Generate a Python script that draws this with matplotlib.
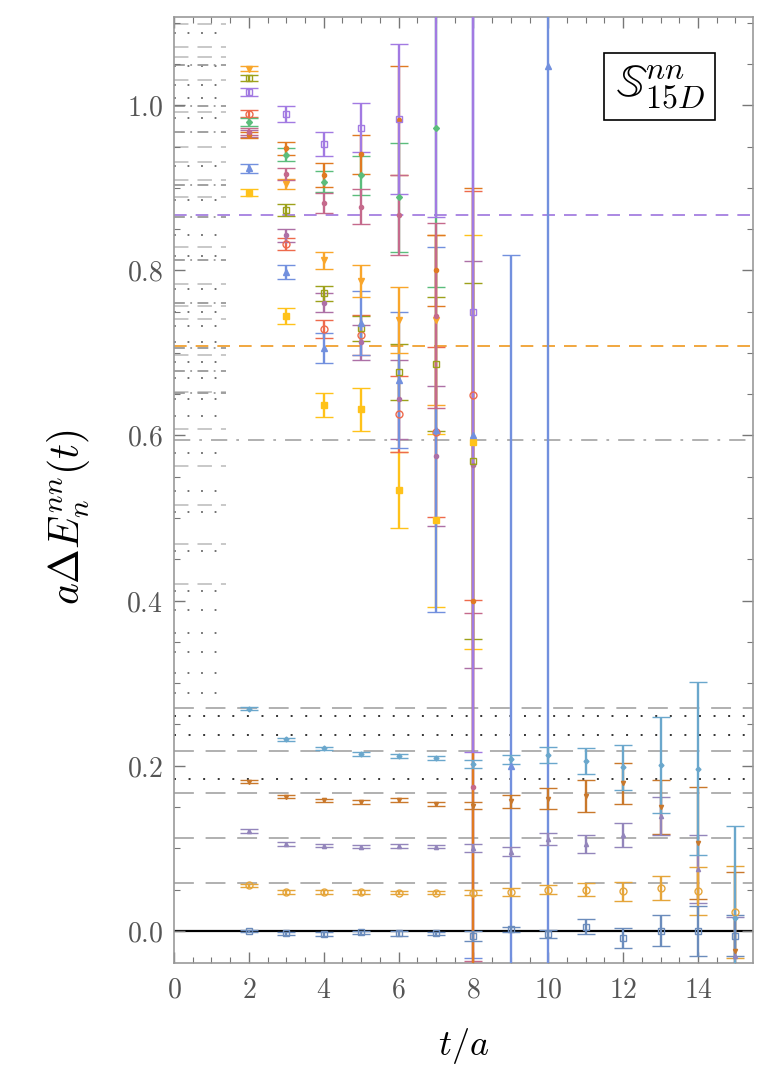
import matplotlib
matplotlib.use('Agg')
import matplotlib.pyplot as plt
from matplotlib.ticker import MultipleLocator, FuncFormatter

plt.rcParams['mathtext.fontset'] = 'cm'
plt.rcParams['font.family'] = ['DejaVu Serif']

# ---- reference levels drawn at the left edge (t = 0 .. 1.4) ----
lev_dash = [1.099, 1.071, 1.058, 1.031, 0.992, 0.950, 0.931, 0.910, 0.889, 0.828,
            0.783, 0.757, 0.741, 0.697, 0.653, 0.608, 0.563, 0.516, 0.468, 0.420]
lev_dot = [1.087, 1.047, 1.024, 1.009, 0.985, 0.926, 0.885, 0.843, 0.818, 0.777,
           0.750, 0.733, 0.713, 0.689, 0.670, 0.644, 0.624, 0.579, 0.533, 0.507,
           0.460, 0.411, 0.389, 0.361, 0.338, 0.312, 0.288]
lev_dashdot = [1.049, 0.999, 0.968, 0.903, 0.865, 0.813, 0.760, 0.706, 0.678, 0.652]

# ---- full width horizontal lines ----
full_dash = [0.2695, 0.218, 0.1666, 0.112, 0.0575]
full_dot = [0.260, 0.237, 0.1835]
purple_line = 0.867
orange_line = 0.708
gray_dashdot_line = 0.594

# ---- low lying states, t = 2..15 ----
t_lo = [2, 3, 4, 5, 6, 7, 8, 9, 10, 11, 12, 13, 14, 15]
lo_blue = [0.000, -0.003, -0.004, -0.002, -0.003, -0.003, -0.0067, 0.002, -0.004, 0.005, -0.009, 0.000, 0.000, -0.006]
lo_blue_err = [0.0015, 0.002, 0.002, 0.002, 0.003, 0.002, 0.006, 0.003, 0.005, 0.009, 0.012, 0.019, 0.030, 0.025]
lo_orange = [0.055, 0.047, 0.047, 0.047, 0.046, 0.046, 0.046, 0.047, 0.050, 0.050, 0.048, 0.052, 0.048, 0.023]
lo_orange_err = [0.002, 0.002, 0.002, 0.002, 0.002, 0.002, 0.003, 0.005, 0.006, 0.008, 0.0115, 0.0146, 0.029, 0.056]
lo_purple = [0.121, 0.105, 0.103, 0.102, 0.1026, 0.102, 0.1005, 0.0957, 0.111, 0.105, 0.116, 0.139, 0.075, -0.030]
lo_purple_err = [0.002, 0.002, 0.002, 0.002, 0.002, 0.002, 0.0045, 0.0055, 0.007, 0.0105, 0.0148, 0.023, 0.041, 0.047]
lo_dorange = [0.1807, 0.1625, 0.158, 0.156, 0.1585, 0.1536, 0.1515, 0.157, 0.160, 0.163, 0.1787, 0.150, 0.1065, -0.0245]
lo_dorange_err = [0.002, 0.002, 0.002, 0.002, 0.002, 0.0025, 0.004, 0.008, 0.013, 0.0195, 0.025, 0.033, 0.068, 0.096]
lo_lblue = [0.269, 0.232, 0.221, 0.214, 0.2117, 0.209, 0.202, 0.208, 0.213, 0.206, 0.198, 0.201, 0.1965, 0.016]
lo_lblue_err = [0.0015, 0.002, 0.002, 0.002, 0.002, 0.0025, 0.005, 0.0055, 0.0095, 0.0155, 0.027, 0.058, 0.105, 0.111]

# ---- excited states ----
t_orange = [2, 3, 4, 5, 6, 7]
hi_orange = [1.044, 0.9045, 0.812, 0.787, 0.740, 0.740]
hi_orange_err = [0.003, 0.006, 0.0101, 0.019, 0.040, 0.103]

t_olive = [2, 3, 4, 5, 6, 7, 8]
hi_olive = [1.033, 0.873, 0.772, 0.730, 0.677, 0.687, 0.569]
hi_olive_err = [0.004, 0.007, 0.009, 0.015, 0.034, 0.081, 0.216]

t_purple = [2, 3, 4, 5, 6, 7, 8]
hi_purple = [1.016, 0.989, 0.953, 0.973, 0.983, 1.250, 0.750]
hi_purple_err = [0.005, 0.0097, 0.015, 0.030, 0.091, 0.385, 0.533]

t_red = [2, 3, 4, 5, 6, 7, 8]
hi_red = [0.990, 0.832, 0.729, 0.722, 0.626, 0.604, 0.6485]
hi_red_err = [0.004, 0.007, 0.011, 0.0245, 0.0465, 0.103, 0.2475]

t_green = [2, 3, 4, 5, 6, 7]
hi_green = [0.980, 0.940, 0.9075, 0.915, 0.8887, 0.973]
hi_green_err = [0.005, 0.008, 0.013, 0.024, 0.066, 0.193]

t_pink = [2, 3, 4, 5, 6, 7, 8]
hi_pink = [0.968, 0.917, 0.882, 0.877, 0.8668, 0.745, 0.174]
hi_pink_err = [0.004, 0.0075, 0.012, 0.021, 0.0486, 0.112, 0.211]

t_dorange = [2, 3, 4, 5, 6, 7, 8]
hi_dorange = [0.964, 0.948, 0.916, 0.9405, 0.982, 0.800, 0.400]
hi_dorange_err = [0.004, 0.008, 0.0146, 0.024, 0.066, 0.043, 0.500]

t_blue = [2, 3, 4, 5, 6, 7, 8, 9, 10]
hi_blue = [0.9235, 0.798, 0.706, 0.7365, 0.667, 0.607, 0.600, 0.200, 1.047]
hi_blue_err = [0.005, 0.0087, 0.018, 0.039, 0.082, 0.221, 0.633, 0.619, 1.200]

t_yellow = [2, 3, 4, 5, 6, 7, 8]
hi_yellow = [0.894, 0.745, 0.637, 0.6315, 0.534, 0.497, 0.592]
hi_yellow_err = [0.0045, 0.0095, 0.0144, 0.0257, 0.046, 0.105, 0.251]

t_magenta = [2, 3, 4, 5, 6, 7, 8]
hi_magenta = [0.966, 0.8425, 0.761, 0.713, 0.644, 0.575, 0.5645]
hi_magenta_err = [0.004, 0.008, 0.011, 0.021, 0.048, 0.085, 0.2465]


fig = plt.figure(figsize=(7.81, 10.78), dpi=100)
ax = fig.add_axes([0.2228, 0.1067, 0.7414, 0.8776])

# left edge levels
ax.hlines(lev_dash, 0, 1.4, colors='#c4c4c4', lw=1.3, linestyles=(0, (8, 5)), zorder=1)
ax.hlines(lev_dot, 0, 1.4, colors='#666666', lw=1.3, linestyles=(0, (1, 6.5)), zorder=1)
ax.hlines(lev_dashdot, 0, 1.4, colors='#9a9a9a', lw=1.3, linestyles=(0, (6, 3, 1, 3)), zorder=1)

# full width lines
for y in full_dash:
    ax.axhline(y, color='#aaaaaa', lw=1.3, ls=(0, (11, 6.5)), zorder=1)
for y in full_dot:
    ax.axhline(y, color='#333333', lw=1.4, ls=(0, (1, 6.5)), zorder=1)
ax.axhline(purple_line, color='#a57fe0', lw=1.3, ls=(0, (7, 5)), zorder=1)
ax.axhline(orange_line, color='#f0a030', lw=1.3, ls=(0, (7, 5)), zorder=1)
ax.axhline(gray_dashdot_line, color='#aaaaaa', lw=1.3, ls=(0, (9, 5, 1.5, 5)), zorder=1)
ax.axhline(0, color='black', lw=1.6, zorder=1.5)


def eb(t, v, e, color, marker, hollow=False, ms=4):
    ax.errorbar(t, v, yerr=e, fmt=marker, color=color, ms=ms,
                mfc='none' if hollow else color, mew=1.0,
                capsize=6.5, elinewidth=1.7, capthick=1.7, zorder=3)


# excited states (drawing order matters where the long bars overlap)
eb(t_yellow, hi_yellow, hi_yellow_err, '#ffc21a', 's')
eb(t_red, hi_red, hi_red_err, '#ee6a4c', 'o', hollow=True, ms=5)
eb(t_magenta, hi_magenta, hi_magenta_err, '#ad70a6', 'o', ms=3)
eb(t_olive, hi_olive, hi_olive_err, '#9da11a', 's', hollow=True)
eb(t_blue, hi_blue, hi_blue_err, '#7290de', '^')
eb(t_green, hi_green, hi_green_err, '#5bbd7c', 'D', ms=3)
eb(t_orange, hi_orange, hi_orange_err, '#f9a62b', 'v')
eb(t_dorange[:-1], hi_dorange[:-1], hi_dorange_err[:-1], '#e07a22', 'o', ms=3)
eb(t_pink, hi_pink, hi_pink_err, '#c56a8c', 'o', ms=3)
eb(t_dorange[-1:], hi_dorange[-1:], hi_dorange_err[-1:], '#e07a22', 'o', ms=3)
eb(t_purple, hi_purple, hi_purple_err, '#a27ae2', 's', hollow=True, ms=5)

# low lying states
eb(t_lo, lo_dorange, lo_dorange_err, '#c9782b', 'v', ms=3)
eb(t_lo, lo_purple, lo_purple_err, '#9385bb', '^', ms=3)
eb(t_lo, lo_orange, lo_orange_err, '#e5a53a', 'o', hollow=True, ms=5)
eb(t_lo, lo_lblue, lo_lblue_err, '#6aa7cc', 'D', ms=2.5)
eb(t_lo, lo_blue, lo_blue_err, '#6b8cbc', 's', hollow=True, ms=4)

ax.set_xlim(0, 15.47)
ax.set_ylim(-0.039, 1.107)

ax.xaxis.set_major_locator(MultipleLocator(2))
ax.xaxis.set_minor_locator(MultipleLocator(0.5))
ax.yaxis.set_major_locator(MultipleLocator(0.2))
ax.yaxis.set_minor_locator(MultipleLocator(0.05))
ax.xaxis.set_major_formatter(FuncFormatter(lambda x, p: r'$%d$' % round(x)))
ax.yaxis.set_major_formatter(FuncFormatter(lambda y, p: r'$%.1f$' % y))
ax.tick_params(which='both', direction='in', top=True, right=True, color='#777777',
               labelcolor='#555555', labelsize=20)
ax.tick_params(which='major', length=8, width=1)
ax.tick_params(which='minor', length=4, width=0.8)
ax.tick_params(axis='x', pad=10)
ax.tick_params(axis='y', pad=8)
for s in ax.spines.values():
    s.set_color('#999999')
    s.set_linewidth(1.2)

ax.set_xlabel(r'$t/a$', fontsize=26, labelpad=16)
ax.set_ylabel(r'$a\Delta E_n^{nn}(t)$', fontsize=30)
ax.yaxis.set_label_coords(-0.142, 0.4715)

ax.text(0.839, 0.9265, r'$\mathbb{S}^{nn}_{15D}$', transform=ax.transAxes,
        fontsize=33, ha='center', va='center', zorder=5,
        bbox=dict(boxstyle='square,pad=0.22', fc='white', ec='black', lw=1.2))

fig.savefig('out.png', dpi=100)
